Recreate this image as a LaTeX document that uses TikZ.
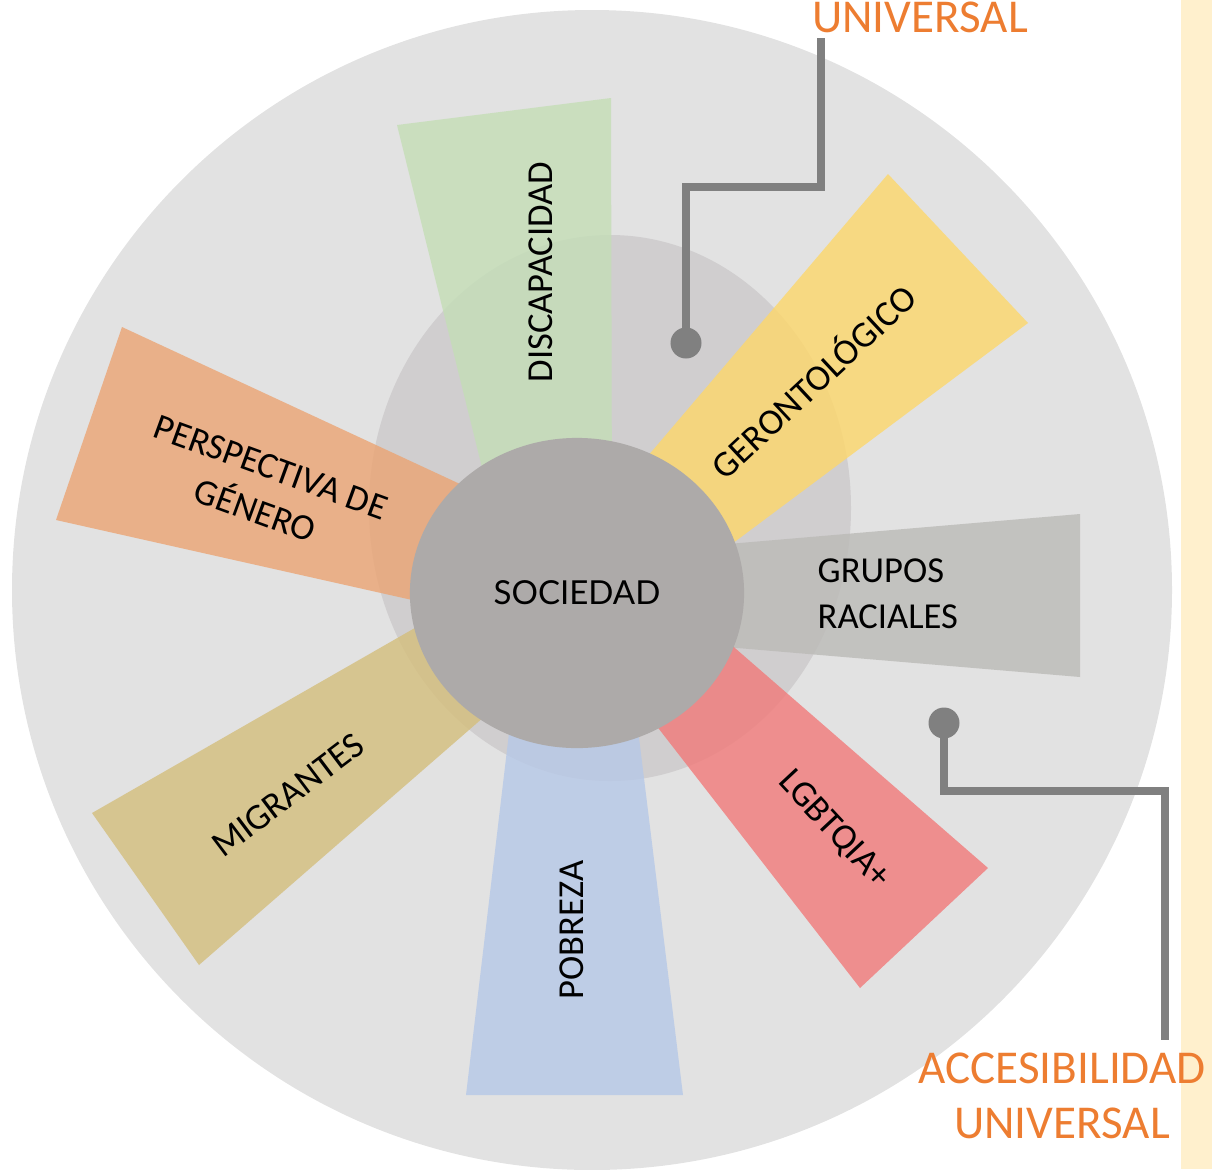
\documentclass[tikz,border=0pt]{standalone}
\usepackage{fontspec}
\setmainfont{Carlito}
\newfontfamily\socfont{Lato}
\usepackage{tikz}
\usetikzlibrary{shapes.geometric,positioning,calc}

\definecolor{ringgray}{HTML}{E2E2E2}
\definecolor{midgray}{HTML}{D0CECF}
\definecolor{socgray}{HTML}{ADAAA9}
\definecolor{linegray}{HTML}{808080}
\definecolor{accorange}{HTML}{ED7D31}
\definecolor{bandcream}{HTML}{FFF0CD}
\definecolor{discgreen}{HTML}{C4DEB6}
\definecolor{gerayellow}{HTML}{FDD76A}
\definecolor{racegray}{HTML}{BBBAB7}
\definecolor{lgbtred}{HTML}{F17A79}
\definecolor{pobblue}{HTML}{B6C8E7}
\definecolor{migolive}{HTML}{D4BE7C}
\definecolor{genorange}{HTML}{EBA473}

\begin{document}
\begin{tikzpicture}[x=0.01cm,y=-0.01cm]

\tikzset{lbl/.style={font=\fontsize{10.4}{13.1}\selectfont, inner sep=0pt},
dot/.style={circle, fill=linegray, minimum size=0.31cm, inner sep=0pt},
link/.style={draw=linegray, line width=2.3pt},
acc/.style={text=accorange, font=\fontsize{13.4}{15.65}\selectfont, inner sep=0pt}}

\useasboundingbox (0,0) rectangle (1212,1169);
\fill[bandcream] (1181,0) rectangle (1212,1169);

\fill[ringgray] (592,590) circle [radius=580];
\fill[midgray] (610,508) ellipse [x radius=241, y radius=273];

%the rays, outer corners first
\foreach \c/\xa/\ya/\xb/\yb/\xc/\yc/\xd/\yd in {
  discgreen/397/125/611/98/612/540/500/540,
  gerayellow/888/174/1028/323/650/605/567/551,
  racegray/1080/514/1080/677/631/639/634/552,
  lgbtred/988/868/860/988/600/653/659/582,
  pobblue/683/1095/466/1095/521/632/626/632,
  migolive/92/813/199/965/562/649/509/574,
  genorange/122/327/56/520/519/624/559/530}
  \fill[\c, fill opacity=0.8] (\xa,\ya) -- (\xb,\yb) -- (\xc,\yc) -- (\xd,\yd) -- cycle;

\node[ellipse, fill=socgray, minimum width=3.34cm, minimum height=3.1cm, inner sep=0pt,
  font=\socfont\fontsize{9.4}{11}\selectfont] (soc) at (577,593) {SOCIEDAD};

\node[lbl, rotate=90] (disc) at (541,272) {DISCAPACIDAD};
\node[lbl, rotate=43] (geron) at (812,380) {GERONTOLÓGICO};
\node[lbl, align=left, anchor=west] (razas) at (817,594) {GRUPOS\\RACIALES};
\node[lbl, rotate=-47] (lgbt) at (834,830) {LGBTQIA+};
\node[lbl, rotate=90] (pobre) at (572,930) {POBREZA};
\node[lbl, rotate=37] (migra) at (288,795) {MIGRANTES};
\node[lbl, rotate=-20, align=center] (genero) at (263,489) {PERSPECTIVA DE\\GÉNERO};

%now the two pointers
\node[dot] (dotA) at (686,343) {};
\node[acc, anchor=base] (uniTop) at (920,32) {UNIVERSAL};
\coordinate (kneeA) at (821,187);
\draw[link, shorten >=1.4pt] (dotA.center) |- (kneeA) -- (kneeA |- uniTop.south);

\node[dot] (dotB) at (944,723) {};
\node[acc, align=center] (accBot) at (1062,1096) {ACCESIBILIDAD\\UNIVERSAL};
\coordinate (kneeB) at (1165,791);
\draw[link, shorten >=3.6pt] (dotB.center) |- (kneeB) -- (kneeB |- accBot.north);

\end{tikzpicture}
\end{document}
